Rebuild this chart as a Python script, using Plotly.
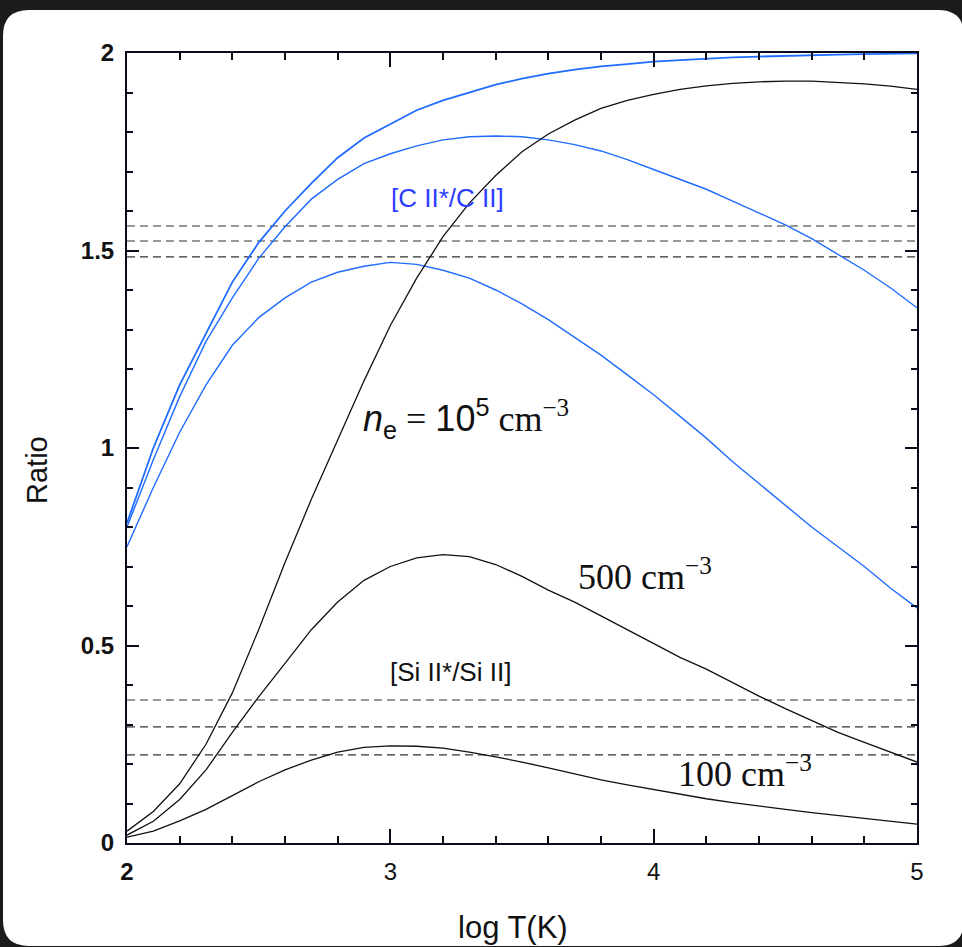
import plotly.graph_objects as go

# log T grid (K), step 0.1
log_t = [2.0, 2.1, 2.2, 2.3, 2.4, 2.5, 2.6, 2.7, 2.8, 2.9, 3.0,
         3.1, 3.2, 3.3, 3.4, 3.5, 3.6, 3.7, 3.8, 3.9, 4.0,
         4.1, 4.2, 4.3, 4.4, 4.5, 4.6, 4.7, 4.8, 4.9, 5.0]

# [C II*/C II] ratio curves
cii_high = [0.81, 1.00, 1.16, 1.29, 1.42, 1.52, 1.60, 1.67, 1.735, 1.785, 1.82,
            1.855, 1.88, 1.90, 1.92, 1.935, 1.948, 1.958, 1.966, 1.972, 1.978,
            1.982, 1.986, 1.989, 1.991, 1.993, 1.995, 1.996, 1.997, 1.998, 1.999]
cii_mid = [0.80, 0.97, 1.13, 1.27, 1.38, 1.48, 1.56, 1.63, 1.68, 1.72, 1.745,
           1.765, 1.78, 1.788, 1.79, 1.788, 1.78, 1.768, 1.752, 1.73, 1.705,
           1.68, 1.655, 1.625, 1.595, 1.565, 1.53, 1.49, 1.45, 1.405, 1.355]
cii_low = [0.75, 0.90, 1.04, 1.16, 1.26, 1.33, 1.38, 1.42, 1.445, 1.46, 1.47,
           1.465, 1.45, 1.43, 1.40, 1.365, 1.325, 1.28, 1.235, 1.185, 1.135,
           1.08, 1.025, 0.965, 0.91, 0.855, 0.80, 0.75, 0.70, 0.645, 0.595]

# [Si II*/Si II] ratio curves for n_e = 1e5, 500, 100 cm^-3
sii_1e5 = [0.03, 0.08, 0.15, 0.25, 0.38, 0.54, 0.71, 0.87, 1.02, 1.17, 1.31,
           1.43, 1.535, 1.62, 1.69, 1.75, 1.795, 1.83, 1.86, 1.88, 1.895,
           1.908, 1.917, 1.923, 1.927, 1.929, 1.929, 1.926, 1.922, 1.916, 1.908]
sii_500 = [0.02, 0.055, 0.11, 0.185, 0.28, 0.37, 0.455, 0.54, 0.61, 0.665, 0.70,
           0.722, 0.73, 0.725, 0.705, 0.675, 0.64, 0.61, 0.575, 0.54, 0.505,
           0.47, 0.44, 0.405, 0.372, 0.34, 0.31, 0.28, 0.255, 0.23, 0.205]
sii_100 = [0.015, 0.03, 0.056, 0.085, 0.12, 0.155, 0.185, 0.21, 0.23, 0.242, 0.246,
           0.245, 0.24, 0.23, 0.218, 0.205, 0.19, 0.175, 0.16, 0.147, 0.135,
           0.123, 0.112, 0.102, 0.093, 0.085, 0.077, 0.07, 0.062, 0.055, 0.048]

# observed ratio levels (dashed)
cii_obs = [1.562, 1.524, 1.484]
sii_obs = [0.362, 0.294, 0.223]

x_ticks = [2, 3, 4, 5]
x_tick_text = ["<b>2</b>", "3", "4", "5"]
y_ticks = [0, 0.5, 1, 1.5, 2]
y_tick_text = ["<b>0</b>", "<b>0.5</b>", "<b>1</b>", "<b>1.5</b>", "<b>2</b>"]

BLUE = "#1f6cff"
TEXT_BLUE = "#2b3dff"
BLACK = "#111111"

W, H = 962, 947
L, R, T, B = 127, 45, 53, 104
PW, PH = W - L - R, H - T - B


def px(x):
    return (x - L) / PW


def py(y):
    return (H - B - y) / PH


fig = go.Figure()

for lvl in cii_obs + sii_obs:
    fig.add_trace(go.Scatter(x=[log_t[0], log_t[-1]], y=[lvl, lvl], mode="lines",
                             line=dict(color="#333333", width=1.2, dash="8px,5px"),
                             hoverinfo="skip", showlegend=False))

for ys, w in [(cii_high, 1.8), (cii_mid, 1.4), (cii_low, 1.4)]:
    fig.add_trace(go.Scatter(x=log_t, y=ys, mode="lines",
                             line=dict(color=BLUE, width=w), showlegend=False))

for ys in [sii_1e5, sii_500, sii_100]:
    fig.add_trace(go.Scatter(x=log_t, y=ys, mode="lines",
                             line=dict(color=BLACK, width=1.3), showlegend=False))

# white rounded panel on dark page
x0, x1, y0, y1, r = px(3), px(964), py(10), py(946), 26 / PW
panel = (f"M {x0 + r},{y0} L {x1 - r},{y0} Q {x1},{y0} {x1},{y0 - r} "
         f"L {x1},{y1 + r} Q {x1},{y1} {x1 - r},{y1} "
         f"L {x0 + r},{y1} Q {x0},{y1} {x0},{y1 + r} "
         f"L {x0},{y0 - r} Q {x0},{y0} {x0 + r},{y0} Z")
fig.add_shape(type="path", path=panel, xref="paper", yref="paper",
              fillcolor="white", line=dict(width=0), layer="below")

serif = "Liberation Serif, Times New Roman, serif"
sans = "Liberation Sans, Arial, sans-serif"


def label(x, y, text, family, size, color=BLACK, angle=0):
    fig.add_annotation(x=px(x), y=py(y), xref="paper", yref="paper", text=text,
                       showarrow=False, xanchor="center", yanchor="middle",
                       textangle=angle, font=dict(family=family, size=size, color=color))


label(447, 198, "[C II*/C II]", sans, 26, TEXT_BLUE)
label(450, 672, "[Si II*/Si II]", sans, 26)
label(466, 418,
      (f"<i>n</i><sub>e</sub>"
       f"<span style='font-family:{serif}'> = </span>10<sup>5</sup>"
       f"<span style='font-family:{serif}'> cm<sup>−3</sup></span>"),
      sans, 36)
label(645, 574, "500 cm<sup>−3</sup>", serif, 36)
label(745, 771, "100 cm<sup>−3</sup>", serif, 36)

# axis titles
label(513, 928, "log T(K)", sans, 31)
label(37, 470, "Ratio", sans, 29, angle=-90)

axis_common = dict(showline=True, linecolor="#0b0b1e", linewidth=2, mirror="ticks",
                   ticks="inside", tickcolor="#0b0b1e", tickwidth=2,
                   showgrid=False, zeroline=False)

fig.update_layout(
    width=W, height=H,
    margin=dict(l=L, r=R, t=T, b=B),
    paper_bgcolor="#1b1b1d", plot_bgcolor="white",
    xaxis=dict(range=[2, 5], tickvals=x_ticks, ticktext=x_tick_text, ticklen=14,
               minor=dict(dtick=0.2, tick0=2, ticklen=7, ticks="inside",
                          tickcolor="#0b0b1e", tickwidth=2),
               ticklabelstandoff=6,
               tickfont=dict(family=sans, size=24, color="#111111"),
               **axis_common),
    yaxis=dict(range=[0, 2], tickvals=y_ticks, ticktext=y_tick_text, ticklen=12,
               minor=dict(dtick=0.1, tick0=0, ticklen=6, ticks="inside",
                          tickcolor="#0b0b1e", tickwidth=2),
               ticklabelstandoff=6,
               tickfont=dict(family=sans, size=24, color="#111111"),
               **axis_common),
)

fig.write_html("out.html")
